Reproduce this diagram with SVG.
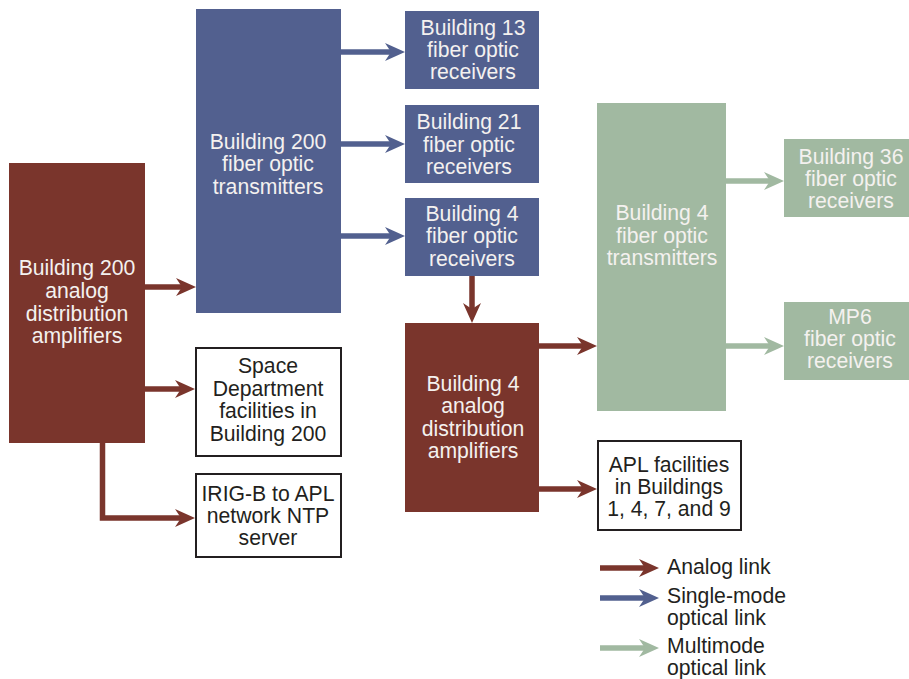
<svg xmlns="http://www.w3.org/2000/svg" width="909" height="679" viewBox="0 0 909 679">
<defs>
<style>
text{font-family:"Liberation Sans",Arial,sans-serif;font-size:21.2px;text-anchor:middle}
.w{fill:#f4f1ef}
.k{fill:#231f20}
.lg{text-anchor:start}
.mar{fill:#7a352c}
.blu{fill:#52608f}
.grn{fill:#a1b9a1}
.box{fill:#fff;stroke:#231f20;stroke-width:2}
.la{fill:none;stroke:#7a352c;stroke-width:5.5}
.lb{fill:none;stroke:#52608f;stroke-width:5.5}
.lgn{fill:none;stroke:#a1b9a1;stroke-width:5.5}
</style>
<marker id="ha" markerUnits="userSpaceOnUse" markerWidth="22" markerHeight="20" refX="10" refY="9.5" orient="auto" overflow="visible"><path d="M0,0.5 L20,9.5 L0,18.5 L6,9.5 Z" fill="#7a352c"/></marker>
<marker id="hb" markerUnits="userSpaceOnUse" markerWidth="22" markerHeight="20" refX="10" refY="9.5" orient="auto" overflow="visible"><path d="M0,0.5 L20,9.5 L0,18.5 L6,9.5 Z" fill="#52608f"/></marker>
<marker id="hg" markerUnits="userSpaceOnUse" markerWidth="22" markerHeight="20" refX="10" refY="9.5" orient="auto" overflow="visible"><path d="M0,0.5 L20,9.5 L0,18.5 L6,9.5 Z" fill="#a1b9a1"/></marker>
</defs>
<rect width="909" height="679" fill="#fff"/>

<g id="connectors">
<path class="la" d="M145,287 H186" marker-end="url(#ha)"/>
<path class="la" d="M145,389 H185" marker-end="url(#ha)"/>
<path class="la" d="M102.5,443 V518 H185" marker-end="url(#ha)"/>
<path class="lb" d="M341,52 H395" marker-end="url(#hb)"/>
<path class="lb" d="M341,144 H395" marker-end="url(#hb)"/>
<path class="lb" d="M341,236 H395" marker-end="url(#hb)"/>
<path class="la" d="M472,276 V313" marker-end="url(#ha)"/>
<path class="la" d="M539,346 H587" marker-end="url(#ha)"/>
<path class="la" d="M539,489 H587" marker-end="url(#ha)"/>
<path class="lgn" d="M726,181 H774" marker-end="url(#hg)"/>
<path class="lgn" d="M726,346 H774" marker-end="url(#hg)"/>
</g>

<g id="b200amp">
<rect class="mar" x="9" y="163" width="136" height="280"/>
<text class="w" x="77"><tspan x="77" y="275">Building 200</tspan><tspan x="77" y="298">analog</tspan><tspan x="77" y="321">distribution</tspan><tspan x="77" y="343">amplifiers</tspan></text>
</g>

<g id="b200tx">
<rect class="blu" x="196" y="9" width="145" height="304"/>
<text class="w"><tspan x="268" y="149">Building 200</tspan><tspan x="268" y="171">fiber optic</tspan><tspan x="268" y="194">transmitters</tspan></text>
</g>

<g id="b13rx">
<rect class="blu" x="405" y="11" width="134" height="78"/>
<text class="w"><tspan x="473" y="35">Building 13</tspan><tspan x="473" y="57">fiber optic</tspan><tspan x="473" y="79">receivers</tspan></text>
</g>

<g id="b21rx">
<rect class="blu" x="405" y="105" width="134" height="78"/>
<text class="w"><tspan x="469" y="129">Building 21</tspan><tspan x="469" y="152">fiber optic</tspan><tspan x="469" y="174">receivers</tspan></text>
</g>

<g id="b4rx">
<rect class="blu" x="405" y="198" width="134" height="78"/>
<text class="w"><tspan x="472" y="221">Building 4</tspan><tspan x="472" y="243">fiber optic</tspan><tspan x="472" y="266">receivers</tspan></text>
</g>

<g id="spacedept">
<rect class="box" x="196" y="348" width="145" height="108"/>
<text class="k"><tspan x="268" y="373">Space</tspan><tspan x="268" y="396">Department</tspan><tspan x="268" y="418">facilities in</tspan><tspan x="268" y="441">Building 200</tspan></text>
</g>

<g id="irigb">
<rect class="box" x="196" y="474" width="145" height="83"/>
<text class="k"><tspan x="268" y="501">IRIG-B to APL</tspan><tspan x="268" y="523">network NTP</tspan><tspan x="268" y="545">server</tspan></text>
</g>

<g id="b4amp">
<rect class="mar" x="405" y="323" width="134" height="189"/>
<text class="w"><tspan x="473" y="391">Building 4</tspan><tspan x="473" y="413">analog</tspan><tspan x="473" y="436">distribution</tspan><tspan x="473" y="458">amplifiers</tspan></text>
</g>

<g id="apl">
<rect class="box" x="598" y="441" width="143" height="89"/>
<text class="k"><tspan x="669" y="472">APL facilities</tspan><tspan x="669" y="494">in Buildings</tspan><tspan x="669" y="516">1, 4, 7, and 9</tspan></text>
</g>

<g id="b4tx">
<rect class="grn" x="597" y="103" width="129" height="308"/>
<text class="w"><tspan x="662" y="220">Building 4</tspan><tspan x="662" y="243">fiber optic</tspan><tspan x="662" y="265">transmitters</tspan></text>
</g>

<g id="b36rx">
<rect class="grn" x="784" y="139" width="125" height="78"/>
<text class="w"><tspan x="851" y="164">Building 36</tspan><tspan x="851" y="186">fiber optic</tspan><tspan x="851" y="208">receivers</tspan></text>
</g>

<g id="mp6rx">
<rect class="grn" x="784" y="302" width="125" height="78"/>
<text class="w"><tspan x="850" y="324">MP6</tspan><tspan x="850" y="346">fiber optic</tspan><tspan x="850" y="368">receivers</tspan></text>
</g>

<g id="legend">
<path class="la" d="M600,568 H649" marker-end="url(#ha)"/>
<path class="lb" d="M600,598 H649" marker-end="url(#hb)"/>
<path class="lgn" d="M600,648 H649" marker-end="url(#hg)"/>
<text class="k lg" x="667" y="574">Analog link</text>
<text class="k lg"><tspan x="667" y="603">Single-mode</tspan><tspan x="667" y="625">optical link</tspan></text>
<text class="k lg"><tspan x="667" y="653">Multimode</tspan><tspan x="667" y="675">optical link</tspan></text>
</g>
</svg>
